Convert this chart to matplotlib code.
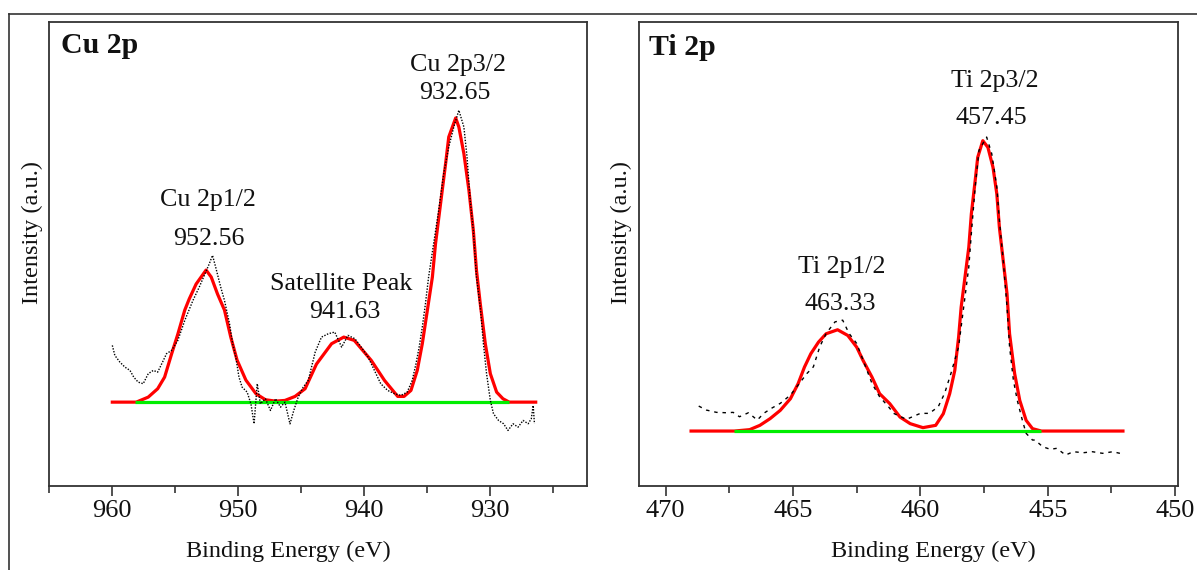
import matplotlib
matplotlib.use("Agg")
import matplotlib.pyplot as plt
from matplotlib.lines import Line2D
from matplotlib.ticker import MultipleLocator, NullLocator

plt.rcParams['font.family'] = ['Liberation Serif', 'DejaVu Serif']

# ---- Cu 2p (binding energy in eV, intensity in a.u.) ----
cu_raw_be = [960.0, 959.8, 959.4, 959.0, 958.6, 958.3, 957.95, 957.55, 957.15, 956.75,
             956.4, 955.95, 955.7, 955.3, 954.8, 954.25, 953.6, 953.1, 952.7, 952.3,
             952.05, 951.8, 951.4, 951.1, 950.7, 950.45, 950.2, 949.95, 949.7, 949.3,
             949.0, 948.75, 948.5, 948.25, 947.85, 947.45, 947.05, 946.65, 946.3, 945.9,
             945.6, 945.25, 944.85, 944.45, 943.9, 943.4, 942.85, 942.35, 941.8, 941.3,
             940.75, 940.25, 939.7, 939.2, 938.7, 938.15, 937.6, 937.1, 936.6, 936.2,
             935.9, 935.65, 935.4, 935.15, 934.9, 934.5, 934.1, 933.7, 933.3, 932.9,
             932.5, 932.1, 931.85, 931.6, 931.35, 931.1, 930.8, 930.55, 930.3, 930.0,
             929.75, 929.35, 928.95, 928.6, 928.2, 927.8, 927.4, 927.0, 926.75, 926.6, 926.5]
cu_raw_int = [56.7, 46.7, 40, 35, 31.7, 25, 20, 18.4, 28.4, 31.7,
              30, 41.7, 48.4, 51.7, 61.7, 81.7, 101.7, 115, 126.7, 138.4,
              146.7, 135, 115, 101.7, 78.4, 58.4, 45, 25, 15, 10,
              -1.7, -21.7, 18.4, -1.7, 3.4, -8.3, 3.4, -5, 0, -21.7,
              -8.3, 5, 15, 21.7, 50, 65, 68.4, 70, 55, 66.7,
              63.4, 55, 45, 31.7, 18.4, 11.7, 8.4, 6.7, 10, 21.7,
              38.4, 55, 75, 98.4, 125, 158.4, 191.7, 228.4, 255, 275,
              291.7, 275, 245, 201.7, 171.7, 125, 95, 58.4, 28.4, 1.7,
              -11.6, -18.3, -21.6, -28.3, -21.6, -25, -18.3, -21.6, -16.6, -3.3, -21.6]

cu_fit_be = [960.0, 958.1, 957.15, 956.4, 955.85, 955.3, 954.8, 954.25, 953.9, 953.35,
             952.56, 952.15, 951.65, 951.1, 950.6, 950.1, 949.4, 948.6, 947.85, 947.05,
             946.3, 945.5, 944.7, 943.8, 942.6, 941.63, 940.8, 939.45, 938.4, 937.35,
             936.85, 936.3, 935.8, 935.4, 935.0, 934.6, 934.35, 933.95, 933.55, 933.3,
             932.75, 932.5, 932.1, 931.7, 931.35, 931.1, 930.8, 930.4, 930.0, 929.5,
             929.0, 928.5, 926.4]
cu_fit_int = [0, 0, 5, 13.4, 25, 48, 68, 92, 103, 118,
              132, 125, 108, 92, 65, 42, 22, 8.4, 2.4, 1,
              1.7, 5.7, 13.4, 38, 58.4, 65, 61.7, 41.7, 21.7, 5.7,
              5.7, 11.7, 31.7, 58.4, 91.7, 125, 158.4, 198.4, 238.4, 265,
              284, 275, 248.4, 211.7, 171.7, 131.7, 98.4, 58.4, 28.4, 10,
              3.4, 0, 0]

cu_bg_be = [958.2, 928.5]
cu_bg_int = [0, 0]

cu_labels = ["Cu 2p3/2", "932.65", "Cu 2p1/2", "952.56", "Satellite Peak", "941.63"]
cu_label_be = [932.57, 932.85, 952.44, 952.37, 941.81, 941.58]
cu_label_int = [330.7, 302.7, 195.7, 156.7, 112.2, 83.7]

# ---- Ti 2p ----
ti_raw_be = [468.7, 468.4, 468.0, 467.6, 467.35, 467.1, 466.75, 466.4, 466.15, 465.85,
             465.5, 465.1, 464.8, 464.45, 464.2, 463.95, 463.7, 463.35, 463.05, 462.8,
             462.5, 462.25, 461.9, 461.6, 461.25, 461.05, 460.55, 460.0, 459.65, 459.3,
             459.05, 458.8, 458.5, 458.3, 458.1, 458.0, 457.85, 457.7, 457.4, 457.2,
             457.0, 456.9, 456.75, 456.6, 456.5, 456.35, 456.2, 456.0, 455.85, 455.6,
             455.5, 455.2, 454.9, 454.65, 454.3, 454.0, 453.6, 453.25, 452.85, 452.45, 452.05]
ti_raw_int = [25, 21, 18.7, 18.3, 18.7, 14.3, 18.3, 11, 17.7, 22.7,
              27.7, 36, 46, 57.7, 64.3, 84.3, 97.7, 109.3, 111, 97.7,
              87.7, 71, 47.7, 34.3, 24.3, 17.7, 11.7, 17.7, 17.7, 24.3,
              37.7, 57.7, 84.3, 124.3, 164.3, 197.7, 244.3, 281, 294.3, 277.7,
              244.3, 211, 171, 124.3, 84.3, 51, 31, 11, -2.3, -9,
              -9, -15.7, -18.3, -17.3, -24, -20.7, -21.7, -20.7, -22.3, -20.7, -23]

ti_fit_be = [469.0, 467.3, 466.7, 466.3, 465.9, 465.5, 465.1, 464.8, 464.55, 464.3,
             464.0, 463.7, 463.25, 462.85, 462.5, 462.25, 461.9, 461.6, 461.2, 460.8,
             460.4, 459.9, 459.4, 459.1, 458.85, 458.65, 458.5, 458.4, 458.25, 458.1,
             458.0, 457.85, 457.75, 457.55, 457.35, 457.15, 457.0, 456.9, 456.75, 456.6,
             456.5, 456.3, 456.1, 455.85, 455.6, 455.25, 452.05]
ti_fit_int = [0, 0, 1.4, 5.7, 12.4, 20.7, 32.4, 47.4, 64, 77.4,
              89, 97.4, 101.4, 95.7, 84, 70.7, 54, 37.4, 27.4, 14,
              7.4, 3.4, 5.7, 17.4, 37.4, 60.7, 94, 124, 154, 184,
              217.4, 250.7, 274, 290.7, 284, 264, 237.4, 204, 170.7, 137.4,
              97.4, 57.4, 30.7, 10.7, 2.4, 0, 0]

ti_bg_be = [467.3, 455.25]
ti_bg_int = [0, 0]

ti_labels = ["Ti 2p3/2", "457.45", "Ti 2p1/2", "463.33"]
ti_label_be = [457.09, 457.21, 463.10, 463.13]
ti_label_int = [344, 307.4, 158, 121]

txt = '#111111'
frame = '#333333'

fig = plt.figure(figsize=(11.97, 5.70), dpi=100)
ax1 = fig.add_axes([0.0412, 0.1474, 0.4495, 0.814])
ax2 = fig.add_axes([0.5337, 0.1474, 0.4502, 0.814])


def draw_panel(ax, raw_x, raw_y, fit_x, fit_y, bg_x, bg_y, dash):
    ax.plot(fit_x, fit_y, color='#ff0000', lw=2.3, zorder=2)
    ax.plot(bg_x, bg_y, color='#00ee00', lw=2.3, zorder=3, solid_capstyle='butt')
    ax.plot(raw_x, raw_y, color='black', lw=1.0, linestyle=dash, zorder=4)
    for s in ax.spines.values():
        s.set_linewidth(1.3)
        s.set_color(frame)
    ax.yaxis.set_major_locator(NullLocator())
    ax.tick_params(axis='x', which='both', direction='out', colors=frame,
                   labelcolor=txt, labelsize=19, pad=3, width=1.2)
    ax.tick_params(axis='x', which='major', length=7)
    ax.tick_params(axis='x', which='minor', length=5)
    ax.set_ylabel("Intensity (a.u.)", fontsize=17.5, color=txt)
    ax.set_xlabel("Binding Energy (eV)", fontsize=17.5, color=txt)


draw_panel(ax1, cu_raw_be, cu_raw_int, cu_fit_be, cu_fit_int, cu_bg_be, cu_bg_int, (0, (1, 1.1)))
ax1.set_xlim(965, 922.3)
ax1.set_ylim(-83.8, 379.9)
ax1.xaxis.set_major_locator(MultipleLocator(10))
ax1.xaxis.set_minor_locator(MultipleLocator(5))
ax1.yaxis.set_label_coords(-0.011, 0.547)
ax1.xaxis.set_label_coords(0.445, -0.118)
ax1.text(0.022, 0.95, "Cu 2p", transform=ax1.transAxes, fontsize=21.5,
         fontweight='bold', color=txt, va='center', ha='left')
for s, x, y in zip(cu_labels, cu_label_be, cu_label_int):
    ax1.text(x, y, s, fontsize=18.7, color=txt, ha='center', va='baseline')

draw_panel(ax2, ti_raw_be, ti_raw_int, ti_fit_be, ti_fit_int, ti_bg_be, ti_bg_int, (0, (2.5, 3.5)))
ax2.set_xlim(471.05, 449.9)
ax2.set_ylim(-55, 409.5)
ax2.xaxis.set_major_locator(MultipleLocator(5))
ax2.xaxis.set_minor_locator(MultipleLocator(2.5))
ax2.yaxis.set_label_coords(-0.013, 0.547)
ax2.xaxis.set_label_coords(0.546, -0.118)
ax2.text(0.018, 0.946, "Ti 2p", transform=ax2.transAxes, fontsize=21.5,
         fontweight='bold', color=txt, va='center', ha='left')
for s, x, y in zip(ti_labels, ti_label_be, ti_label_int):
    ax2.text(x, y, s, fontsize=18.7, color=txt, ha='center', va='baseline')

# outer frame (top and left edges only)
ytop = 1 - 13.5 / 570
xl = 9 / 1197
fig.add_artist(Line2D([xl, 1], [ytop, ytop], transform=fig.transFigure, color=frame, lw=1.2))
fig.add_artist(Line2D([xl, xl], [0, ytop], transform=fig.transFigure, color=frame, lw=1.2))

fig.savefig("out.png", dpi=100)
